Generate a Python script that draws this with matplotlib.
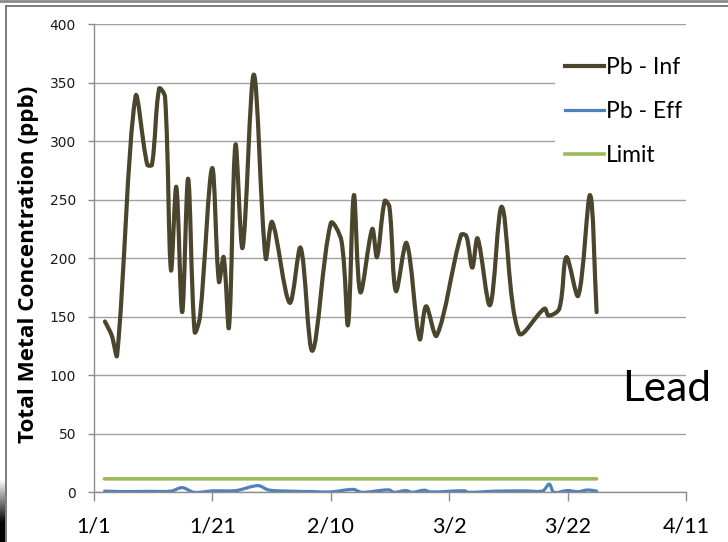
import numpy as np
import matplotlib
matplotlib.use("Agg")
import matplotlib.pyplot as plt
from matplotlib.path import Path
from matplotlib.patches import PathPatch
from matplotlib.lines import Line2D

# ---------------- data (day index from 1/1) ----------------
inf_days = [1.85, 3.0, 3.9, 7.0, 9.0, 9.8, 11.0, 12.0, 13.0, 13.9, 14.9, 15.9, 17.0, 17.9,
            19.95, 21.1, 21.9, 22.8, 23.9, 25.1, 27.0, 29.0, 30.1, 33.05, 34.9, 36.9, 40.0,
            41.8, 42.9, 43.9, 45.0, 47.0, 47.8, 49.1, 49.9, 51.0, 52.8, 55.0, 56.1, 57.9,
            62.0, 62.9, 63.9, 64.8, 66.9, 68.9, 71.8, 76.1, 76.8, 78.6, 79.8, 81.8, 83.8, 84.9]
inf_vals = [146, 134, 117, 338, 280, 280, 345, 338, 190, 261, 154, 268, 137, 150,
            277, 180, 201, 141, 297, 209, 357, 200, 231, 162, 209, 121, 230,
            215, 143, 254, 171, 225, 201, 249, 244, 172, 213, 131, 159, 134,
            220, 219, 192, 217, 160, 244, 136, 157, 151, 157, 201, 168, 254, 154]

eff_days = [1.8, 5.0, 9.0, 13.0, 14.9, 16.9, 20.0, 24.0, 27.7, 29.5, 33.0, 37.0, 40.0, 43.8,
            45.2, 49.8, 50.7, 52.7, 53.7, 55.8, 56.8, 62.5, 63.3, 68.0, 73.0, 75.8, 76.9,
            77.7, 80.0, 81.7, 83.4, 84.9]
eff_vals = [1.0, 0.6, 0.8, 1.0, 4.0, 0.0, 1.2, 1.5, 5.7, 2.0, 1.0, 0.6, 0.3, 2.5,
            0.0, 2.1, 0.0, 1.5, 0.0, 1.8, 0.3, 1.3, 0.0, 1.0, 1.2, 1.2, 7.0,
            0.0, 1.5, 0.5, 2.0, 1.0]

limit_days = [1.75, 84.9]
limit_vals = [11.5, 11.5]

series_names = ["Pb - Inf", "Pb - Eff", "Limit"]
series_colors = ["#4A452C", "#4F81BD", "#9BBB59"]
x_ticks = [0, 20, 40, 60, 80, 100]
x_tick_labels = ["1/1", "1/21", "2/10", "3/2", "3/22", "4/11"]
y_ticks = [0, 50, 100, 150, 200, 250, 300, 350, 400]
y_label = "Total Metal Concentration (ppb)"
side_text = "Lead"

W, H = 728, 542


def smooth_path(ax, xs, ys):
    """Chord-length weighted Catmull-Rom Bezier path (Excel-like smoothing)."""
    pts = np.column_stack([xs, ys]).astype(float)
    disp = ax.transData.transform(pts)
    n = len(pts)
    d = np.hypot(*np.diff(disp, axis=0).T)
    d = np.maximum(d, 1e-6)
    tang = np.zeros_like(disp)
    for i in range(n):
        if 0 < i < n - 1:
            tang[i] = (disp[i + 1] - disp[i - 1]) / (d[i - 1] + d[i])
        elif i == 0 and n > 1:
            tang[i] = (disp[1] - disp[0]) / d[0]
        elif n > 1:
            tang[i] = (disp[-1] - disp[-2]) / d[-1]
    verts = [disp[0]]
    codes = [Path.MOVETO]
    for i in range(n - 1):
        c1 = disp[i] + tang[i] * d[i] / 3.0
        c2 = disp[i + 1] - tang[i + 1] * d[i] / 3.0
        verts += [c1, c2, disp[i + 1]]
        codes += [Path.CURVE4] * 3
    inv = ax.transData.inverted()
    return Path(inv.transform(np.array(verts)), codes)


fig = plt.figure(figsize=(W / 100, H / 100), dpi=100)
fig.patch.set_facecolor("white")

ax_l, ax_r, ax_t, ax_b = 94, 686, 24.3, 492.3
ax = fig.add_axes([ax_l / W, (H - ax_b) / H, (ax_r - ax_l) / W, (ax_b - ax_t) / H])
ax.set_xlim(0, 100)
ax.set_ylim(0, 400)

grid_c = "#A0A0A0"
ax.set_yticks(y_ticks)
ax.set_xticks(x_ticks)
ax.set_xticklabels(x_tick_labels)
ax.yaxis.grid(True, color=grid_c, lw=1.0)
ax.set_axisbelow(True)
for s in ["top", "right"]:
    ax.spines[s].set_visible(False)
for s in ["left", "bottom"]:
    ax.spines[s].set_color("#8C8C8C")
    ax.spines[s].set_linewidth(1.0)

ax.tick_params(axis="y", direction="out", length=4.5, width=1.0, color="#8C8C8C",
               pad=8.5, labelsize=10, labelcolor="#1a1a1a")
ax.tick_params(axis="x", direction="out", length=6.8, width=1.0, color="#8C8C8C",
               pad=10.5, labelsize=15.5, labelcolor="black")
for lab in ax.get_xticklabels():
    lab.set_family("Lato")
for lab in ax.get_yticklabels():
    lab.set_family("DejaVu Sans")

lws = [3.0, 2.3, 2.6]
data = [(inf_days, inf_vals), (eff_days, eff_vals), (limit_days, limit_vals)]
for (dx, dy), c, lw, z in zip(data, series_colors, lws, [3, 2, 2]):
    ax.add_patch(PathPatch(smooth_path(ax, dx, dy), facecolor="none", edgecolor=c, lw=lw,
                           capstyle="round", joinstyle="round", zorder=z))

handles = [Line2D([], [], color=c, lw=lw) for c, lw in zip(series_colors, lws)]
leg = fig.legend(handles, series_names, loc="upper left",
                 bbox_to_anchor=(555 / W, 1 - 47 / H), bbox_transform=fig.transFigure,
                 frameon=True, facecolor="white", edgecolor="none", framealpha=1,
                 fancybox=False, borderpad=0.42, borderaxespad=0,
                 handlelength=1.72, handletextpad=0.1, labelspacing=1.02,
                 prop={"family": "Lato", "size": 16.5})

ylab = fig.text(29 / W, 1 - 264 / H, y_label, rotation=90, ha="center", va="center",
                fontsize=14, fontweight="bold", family="Open Sans", color="black")
# fit label length to the reference span (~358 px)
r = fig.canvas.get_renderer()
ext = ylab.get_window_extent(renderer=r)
ylab.set_fontsize(14 * 358.0 / ext.height)

fig.text(622 / W, 1 - 400.7 / H, side_text, ha="left", va="baseline",
         fontsize=30.5, family="Lato", color="black")

# slide frame decoration
fig.add_artist(Line2D([0, 1], [1 - 1.3 / H, 1 - 1.3 / H], transform=fig.transFigure,
                      color="#8A8A8A", lw=2.0))
fig.add_artist(Line2D([5.8 / W, 1], [1 - 5.8 / H, 1 - 5.8 / H], transform=fig.transFigure,
                      color="#7A7A7A", lw=1.4))
fig.add_artist(Line2D([5.8 / W, 5.8 / W], [0, 1 - 5.8 / H], transform=fig.transFigure,
                      color="#7A7A7A", lw=1.4))

# dark shadow at bottom-left edge
gh, gw = 70, 5
img = np.zeros((gh, gw, 4))
t = np.linspace(0, 1, gh)[:, None]
img[..., 3] = np.clip((t - 0.1) * 1.6, 0, 1) * np.ones((1, gw))
fig.figimage(img, xo=0, yo=0, origin="upper", zorder=5)

fig.savefig("out.png", dpi=100, facecolor="white")
